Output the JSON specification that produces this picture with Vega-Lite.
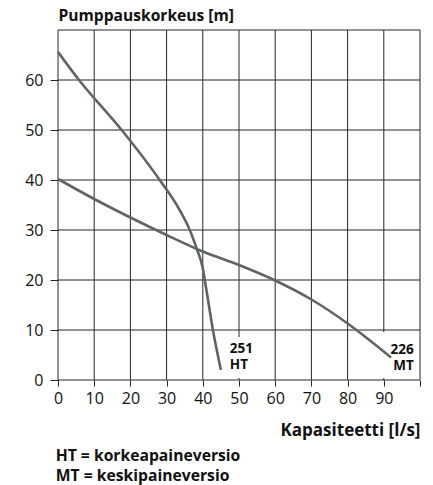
{
  "$schema": "https://vega.github.io/schema/vega-lite/v6.json",
  "autosize": "none",
  "width": 362,
  "height": 350,
  "padding": {"left": 58, "top": 30, "right": 13, "bottom": 105},
  "background": "white",
  "config": {
    "view": {"stroke": null},
    "font": "Open Sans",
    "axis": {
      "grid": false, "domain": false,
      "tickColor": "#262626",
      "labelFont": "Open Sans", "labelFontSize": 16, "labelColor": "#111",
      "labelFlush": false, "labelOverlap": false, "labelBound": false,
      "titleFont": "Open Sans", "titleFontWeight": "bold", "titleColor": "#111"
    },
    "axisX": {
      "tickSize": 6, "labelPadding": 4, "labelOverlap": false, "tickCount": 11,
      "titleFontSize": 17, "titleAlign": "right", "titleAnchor": "end", "titleBaseline": "alphabetic",
      "titleX": 362, "titleY": 55
    },
    "axisY": {
      "tickSize": 8, "labelPadding": 7, "labelOverlap": false,
      "titleFontSize": 15.6, "titleAngle": 0, "titleAlign": "left", "titleAnchor": "start", "titleBaseline": "alphabetic",
      "titleX": 0, "titleY": -10
    }
  },
  "title": {
    "text": ["HT = korkeapaineversio", "MT = keskipaineversio"],
    "orient": "bottom",
    "anchor": "start",
    "dx": 31,
    "fontSize": 15.7,
    "fontWeight": "bold",
    "font": "Open Sans",
    "color": "#111",
    "lineHeight": 20,
    "offset": 11
  },
  "datasets": {
    "curves": [
      {"pump": "HT", "q": 0, "h": 65.6},
      {"pump": "HT", "q": 5.8, "h": 60},
      {"pump": "HT", "q": 17.6, "h": 50},
      {"pump": "HT", "q": 28.1, "h": 40},
      {"pump": "HT", "q": 33.6, "h": 34},
      {"pump": "HT", "q": 36.4, "h": 30},
      {"pump": "HT", "q": 38.4, "h": 26.1},
      {"pump": "HT", "q": 39.9, "h": 22.7},
      {"pump": "HT", "q": 41, "h": 18},
      {"pump": "HT", "q": 42.8, "h": 10},
      {"pump": "HT", "q": 45, "h": 2},
      {"pump": "MT", "q": 0, "h": 40.2},
      {"pump": "MT", "q": 10, "h": 36.2},
      {"pump": "MT", "q": 20, "h": 32.5},
      {"pump": "MT", "q": 30, "h": 29},
      {"pump": "MT", "q": 40, "h": 25.7},
      {"pump": "MT", "q": 50, "h": 23},
      {"pump": "MT", "q": 60, "h": 19.9},
      {"pump": "MT", "q": 70, "h": 16.1},
      {"pump": "MT", "q": 80, "h": 11.3},
      {"pump": "MT", "q": 86, "h": 8},
      {"pump": "MT", "q": 92, "h": 4.5}
    ],
    "labels": [
      {"pump": "HT", "q": 50.5, "h": 4.5, "label": "251\nHT"},
      {"pump": "MT", "q": 94.4, "h": 5, "label": "226\nMT"}
    ],
    "vgrid": [
      {"q": 0}, {"q": 10}, {"q": 20}, {"q": 30}, {"q": 40}, {"q": 50},
      {"q": 60}, {"q": 70}, {"q": 80}, {"q": 90}, {"q": 100}
    ],
    "hgrid": [
      {"h": 0}, {"h": 10}, {"h": 20}, {"h": 30}, {"h": 40}, {"h": 50}, {"h": 60}, {"h": 70}
    ]
  },
  "layer": [
    {
      "data": {"name": "vgrid"},
      "mark": {"type": "rule", "color": "#262626", "strokeWidth": 1},
      "encoding": {
        "x": {
          "field": "q", "type": "quantitative", "title": "Kapasiteetti [l/s]",
          "scale": {"domain": [0, 100], "nice": false, "zero": false},
          "axis": {"values": [0, 10, 20, 30, 40, 50, 60, 70, 80, 90, 100], "tickCount": 11, "labelExpr": "datum.value == 100 ? '' : datum.label", "labelOverlap": false, "title": "Kapasiteetti [l/s]"}
        }
      }
    },
    {
      "data": {"name": "hgrid"},
      "mark": {"type": "rule", "color": "#262626", "strokeWidth": 1},
      "encoding": {
        "y": {
          "field": "h", "type": "quantitative", "title": "Pumppauskorkeus [m]",
          "scale": {"domain": [0, 70], "nice": false, "zero": false},
          "axis": {"values": [0, 10, 20, 30, 40, 50, 60], "labelOverlap": false, "title": "Pumppauskorkeus [m]"}
        }
      }
    },
    {
      "data": {"name": "labels"},
      "transform": [{"filter": "datum.pump == 'HT'"}],
      "mark": {"type": "point", "shape": "M-0.732,-1H0.732V1H-0.732Z", "size": 1681, "filled": true, "fill": "white", "opacity": 1, "strokeWidth": 0},
      "encoding": {
        "x": {"field": "q", "type": "quantitative", "title": "Kapasiteetti [l/s]", "axis": {"values": [0, 10, 20, 30, 40, 50, 60, 70, 80, 90, 100], "tickCount": 11, "labelExpr": "datum.value == 100 ? '' : datum.label", "labelOverlap": false, "title": "Kapasiteetti [l/s]"}},
        "y": {"field": "h", "type": "quantitative", "title": "Pumppauskorkeus [m]", "axis": {"values": [0, 10, 20, 30, 40, 50, 60], "labelOverlap": false, "title": "Pumppauskorkeus [m]"}}
      }
    },
    {
      "data": {"name": "labels"},
      "transform": [{"filter": "datum.pump == 'MT'"}],
      "mark": {"type": "point", "shape": "M-0.826,-1H0.826V1H-0.826Z", "size": 2116, "filled": true, "fill": "white", "opacity": 1, "strokeWidth": 0},
      "encoding": {
        "x": {"field": "q", "type": "quantitative", "title": "Kapasiteetti [l/s]", "axis": {"values": [0, 10, 20, 30, 40, 50, 60, 70, 80, 90, 100], "tickCount": 11, "labelExpr": "datum.value == 100 ? '' : datum.label", "labelOverlap": false, "title": "Kapasiteetti [l/s]"}},
        "y": {"field": "h", "type": "quantitative", "title": "Pumppauskorkeus [m]", "axis": {"values": [0, 10, 20, 30, 40, 50, 60], "labelOverlap": false, "title": "Pumppauskorkeus [m]"}}
      }
    },
    {
      "data": {"name": "curves"},
      "mark": {"type": "line", "interpolate": "monotone", "color": "#5f6565", "strokeWidth": 2.6},
      "encoding": {
        "detail": {"field": "pump"},
        "x": {"field": "q", "type": "quantitative", "title": "Kapasiteetti [l/s]", "axis": {"values": [0, 10, 20, 30, 40, 50, 60, 70, 80, 90, 100], "tickCount": 11, "labelExpr": "datum.value == 100 ? '' : datum.label", "labelOverlap": false, "title": "Kapasiteetti [l/s]"}},
        "y": {"field": "h", "type": "quantitative", "title": "Pumppauskorkeus [m]", "axis": {"values": [0, 10, 20, 30, 40, 50, 60], "labelOverlap": false, "title": "Pumppauskorkeus [m]"}}
      }
    },
    {
      "data": {"name": "labels"},
      "transform": [{"filter": "datum.pump == 'HT'"}],
      "mark": {"type": "text", "align": "left", "baseline": "middle", "dx": -11, "dy": -9, "lineBreak": "\n", "lineHeight": 16, "fontSize": 13.5, "fontWeight": "bold", "font": "Open Sans", "color": "#111"},
      "encoding": {
        "x": {"field": "q", "type": "quantitative", "title": "Kapasiteetti [l/s]", "axis": {"values": [0, 10, 20, 30, 40, 50, 60, 70, 80, 90, 100], "tickCount": 11, "labelExpr": "datum.value == 100 ? '' : datum.label", "labelOverlap": false, "title": "Kapasiteetti [l/s]"}},
        "y": {"field": "h", "type": "quantitative", "title": "Pumppauskorkeus [m]", "axis": {"values": [0, 10, 20, 30, 40, 50, 60], "labelOverlap": false, "title": "Pumppauskorkeus [m]"}},
        "text": {"field": "label"}
      }
    },
    {
      "data": {"name": "labels"},
      "transform": [{"filter": "datum.pump == 'MT'"}],
      "mark": {"type": "text", "align": "right", "baseline": "middle", "dx": 14, "dy": -5, "lineBreak": "\n", "lineHeight": 16, "fontSize": 13.5, "fontWeight": "bold", "font": "Open Sans", "color": "#111"},
      "encoding": {
        "x": {"field": "q", "type": "quantitative", "title": "Kapasiteetti [l/s]", "axis": {"values": [0, 10, 20, 30, 40, 50, 60, 70, 80, 90, 100], "tickCount": 11, "labelExpr": "datum.value == 100 ? '' : datum.label", "labelOverlap": false, "title": "Kapasiteetti [l/s]"}},
        "y": {"field": "h", "type": "quantitative", "title": "Pumppauskorkeus [m]", "axis": {"values": [0, 10, 20, 30, 40, 50, 60], "labelOverlap": false, "title": "Pumppauskorkeus [m]"}},
        "text": {"field": "label"}
      }
    }
  ]
}
